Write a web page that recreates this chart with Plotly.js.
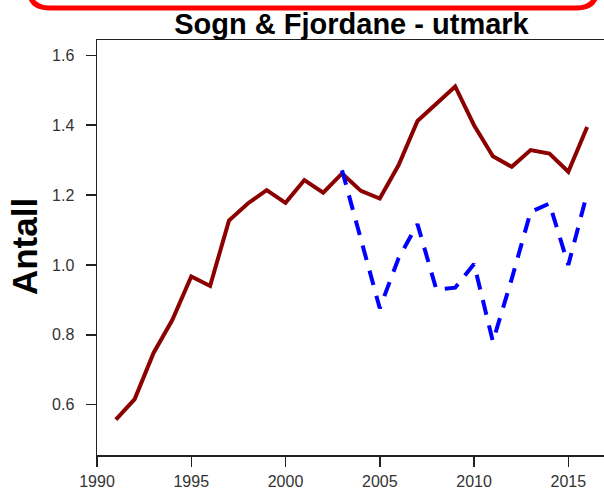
<!DOCTYPE html>
<html>
<head>
<meta charset="utf-8">
<script src="https://cdn.plot.ly/plotly-3.0.1.min.js"></script>
<style>
html,body{margin:0;padding:0;overflow:hidden;background:#fff;}
#chart{width:612px;height:492px;}
</style>
</head>
<body>
<div id="chart"></div>
<script>
// Data
const yearsAll = [1991,1992,1993,1994,1995,1996,1997,1998,1999,2000,2001,2002,2003,2004,2005,2006,2007,2008,2009,2010,2011,2012,2013,2014,2015,2016];
const valuesAll = [0.557,0.616,0.748,0.843,0.967,0.940,1.127,1.176,1.214,1.178,1.243,1.207,1.262,1.212,1.190,1.286,1.412,1.462,1.511,1.400,1.311,1.281,1.329,1.319,1.267,1.395];
const yearsSub = [2003,2004,2005,2006,2007,2008,2009,2010,2011,2012,2013,2014,2015,2016];
const valuesSub = [1.271,1.07,0.876,1.02,1.117,0.93,0.935,1.003,0.781,0.96,1.152,1.176,1.0,1.205];
const xTicks = [1990,1995,2000,2005,2010,2015];
const yTicks = [0.6,0.8,1.0,1.2,1.4,1.6];
const yTickText = ['0.6','0.8','1.0','1.2','1.4','1.6'];
const titleText = 'Sogn & Fjordane - utmark';
const yTitleText = 'Antall';

const traces = [
  {x: yearsAll, y: valuesAll, type: 'scatter', mode: 'lines',
   line: {color: '#8B0000', width: 4}, hoverinfo: 'x+y'},
  {x: yearsSub, y: valuesSub, type: 'scatter', mode: 'lines',
   line: {color: '#0000FF', width: 4, dash: '15px,11px'}, hoverinfo: 'x+y'}
];

const tickFont = {family: 'Liberation Sans, Arial, sans-serif', size: 16, color: '#333'};

const layout = {
  width: 612, height: 492,
  margin: {l: 97, r: 6, t: 40, b: 37},
  paper_bgcolor: '#fff', plot_bgcolor: '#fff',
  showlegend: false,
  title: {text: '<b>' + titleText + '</b>', font: {family: 'Liberation Sans, Arial, sans-serif', size: 29, color: '#000'},
          x: 0.5, xref: 'paper', xanchor: 'center', y: 0.951, yref: 'container', yanchor: 'middle'},
  xaxis: {range: [1990, 2017], tickvals: xTicks, ticktext: xTicks.map(String),
          showgrid: false, zeroline: false, showline: true, mirror: true,
          linecolor: '#222', linewidth: 1.5, ticks: 'outside', ticklen: 10, tickwidth: 1.5, tickcolor: '#222',
          tickfont: tickFont, ticklabelstandoff: 1},
  yaxis: {range: [0.456, 1.644], tickvals: yTicks, ticktext: yTickText,
          showgrid: false, zeroline: false, showline: true, mirror: true,
          linecolor: '#222', linewidth: 1.5, ticks: 'outside', ticklen: 10, tickwidth: 1.5, tickcolor: '#222',
          tickfont: tickFont, ticklabelstandoff: 8},
  annotations: [
    {text: '<b>' + yTitleText + '</b>', xref: 'paper', yref: 'paper', x: -0.1434, y: 0.501,
     xanchor: 'center', yanchor: 'middle', textangle: -90, showarrow: false,
     font: {family: 'Liberation Sans, Arial, sans-serif', size: 35, color: '#000'}}
  ],
  shapes: [
    {type: 'path', xref: 'paper', yref: 'paper',
     path: 'M -0.1336,1.16 L -0.1336,1.125 Q -0.1336,1.0771 -0.0923,1.0771 L 0.9411,1.0771 Q 0.9824,1.0771 0.9824,1.125 L 0.9824,1.16',
     line: {color: '#FF0000', width: 5}}
  ]
};

Plotly.newPlot('chart', traces, layout, {displayModeBar: false, staticPlot: true});
</script>
</body>
</html>
